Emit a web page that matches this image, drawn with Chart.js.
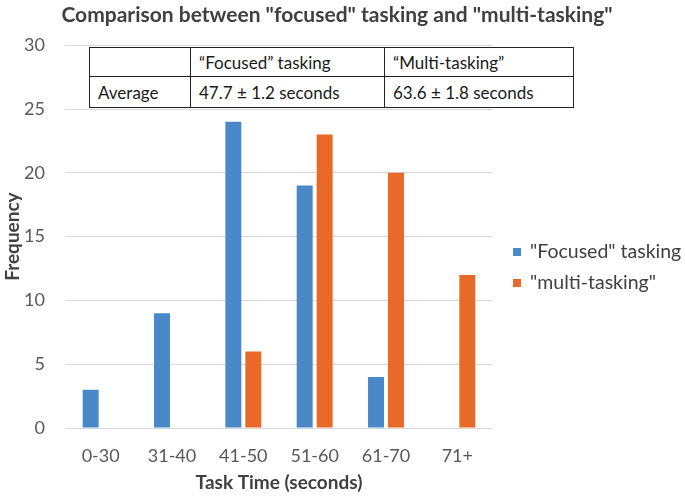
<!DOCTYPE html>
<html>
<head>
<meta charset="utf-8">
<script src="https://cdn.jsdelivr.net/npm/chart.js@4"></script>
<style>
  html, body { margin: 0; padding: 0; background: #fff; }
  #wrap { position: relative; width: 685px; height: 499px; }
  #avgTable {
    position: absolute; left: 89px; top: 47px; width: 484px;
    border-collapse: collapse; table-layout: fixed; background: #fff;
    font-family: Lato, 'Open Sans', sans-serif; font-size: 17px; color: #1a1a1a;
  }
  #avgTable td {
    border: 1.4px solid #222; padding: 0 0 0 8px; white-space: nowrap;
  }
</style>
</head>
<body>
<div id="wrap">
  <canvas id="c" width="685" height="499"></canvas>
  <table id="avgTable">
    <colgroup><col style="width:101px"><col style="width:194px"><col style="width:189px"></colgroup>
    <tr style="height:29px"><td></td><td>“Focused” tasking</td><td>“Multi-tasking”</td></tr>
    <tr style="height:31px"><td>Average</td><td>47.7 ± 1.2 seconds</td><td>63.6 ± 1.8 seconds</td></tr>
  </table>
</div>
<script>
const categories  = ['0-30', '31-40', '41-50', '51-60', '61-70', '71+'];
const focused     = [3, 9, 24, 19, 4, 0];
const multi       = [0, 0, 6, 23, 20, 12];
const seriesNames = ['"Focused" tasking', '"multi-tasking"'];
const yTicks      = [0, 5, 10, 15, 20, 25, 30];

const C = {
    blue:   '#4a88c7',
    orange: '#e96a28',
    grid:   '#d9d9d9',
    tick:   '#595959',
    label:  '#404040',
};

const FONT = "Lato, 'Open Sans', sans-serif";
Chart.defaults.font.family = FONT;
Chart.defaults.color = C.tick;

// legend to the right of the plot, like the Excel original
const sideLegend = {
    id: 'sideLegend',
    afterDraw(chart) {
        const { ctx, chartArea } = chart;
        ctx.save();
        ctx.font = `19.5px ${FONT}`;
        ctx.textBaseline = 'middle';
        chart.data.datasets.forEach((ds, i) => {
            const x = chartArea.right + 20;
            const y = 252 + i * 31;
            ctx.fillStyle = ds.backgroundColor;
            ctx.fillRect(x, y - 4, 8, 8);
            ctx.fillStyle = C.label;
            ctx.fillText(ds.label, x + 17, y);
        });
        ctx.restore();
    }
};

new Chart(document.getElementById('c'), {
    type: 'bar',
    data: {
        labels: categories,
        datasets: [
            { label: seriesNames[0], data: focused, backgroundColor: C.blue,
              categoryPercentage: 0.56, barPercentage: 0.8 },
            { label: seriesNames[1], data: multi, backgroundColor: C.orange,
              categoryPercentage: 0.56, barPercentage: 0.8 },
        ]
    },
    options: {
        responsive: false, animation: false,
        layout: { padding: { top: 3, right: 11, left: 0, bottom: 4.6 } },
        scales: {
            x: {
                grid: { display: false, drawTicks: false },
                border: { display: false },
                ticks: { color: C.tick, font: { size: 18 }, padding: 17 },
                title: { display: true, text: 'Task Time (seconds)', color: C.label,
                         font: { size: 19, weight: 'bold' }, padding: { top: -12, bottom: 0 } }
            },
            y: {
                min: 0, max: 30,
                afterBuildTicks: s => { s.ticks = yTicks.map(v => ({ value: v })); },
                afterFit: s => { s.width = 65; },
                grid: { color: C.grid, drawTicks: false },
                border: { display: false },
                ticks: { color: C.tick, font: { size: 18 }, padding: 20 },
                title: { display: true, text: 'Frequency', color: C.label,
                         font: { size: 19, weight: 'bold' }, padding: 1 }
            },
            // empty strip on the right that leaves room for the legend
            yPad: {
                position: 'right', display: true,
                grid: { display: false }, border: { display: false },
                ticks: { display: false },
                afterFit: s => { s.width = 181; }
            }
        },
        plugins: {
            title: { display: true, text: 'Comparison between "focused" tasking and "multi-tasking"',
                     color: C.label, font: { size: 21, weight: 'bold' }, padding: { top: 0, bottom: 17 } },
            legend: { display: false },
            tooltip: { enabled: false }
        }
    },
    plugins: [sideLegend]
});
</script>
</body>
</html>
